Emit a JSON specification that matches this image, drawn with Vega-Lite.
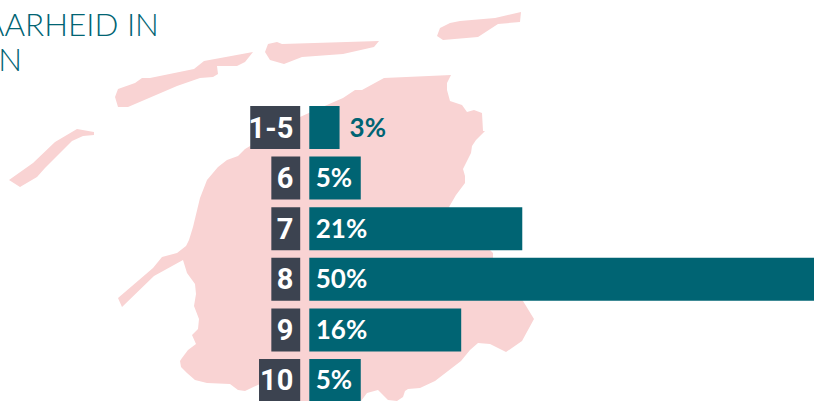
{
"$schema":"https://vega.github.io/schema/vega-lite/v6.json",
"width":814,"height":401,
"autosize":{"type":"none"},
"padding":0,
"background":"white",
"view":{"stroke":null},
"datasets":{"bars":[
{"cat":"1-5","value":3,"label":"3%"},
{"cat":"6","value":5.1,"label":"5%"},
{"cat":"7","value":21.1,"label":"21%"},
{"cat":"8","value":50,"label":"50%"},
{"cat":"9","value":15.05,"label":"16%"},
{"cat":"10","value":5.1,"label":"5%"}
]},
"layer":[
{"data":{"values":{"type":"FeatureCollection","features":[
{"type":"Feature","properties":{"name":"Fryslân"},"geometry":{"type":"MultiPolygon","coordinates":[
[[[384,78],[451,75],[447,83],[447,90],[450,101],[462,105],[467,112],[474,110],[482,113],[483,131],[485,131],[476,140],[472,146],[471,153],[463,169],[465,176],[465,183],[456,195],[449,207],[470,230],[490,250],[493,253],[493,262],[523,301],[534,319],[522,341],[506,352],[490,344],[478,343],[470,350],[461,361],[435,381],[420,388],[408,389],[405,391],[403,397],[397,401],[388,400],[382,394],[378,390],[367,393],[361,401],[355,415],[290,415],[260,384],[245,391],[238,390],[230,384],[207,383],[195,380],[187,373],[181,367],[180,361],[182,358],[188,350],[196,344],[192,335],[198,329],[199,319],[194,306],[196,294],[195,284],[187,273],[183,260],[154,276],[122,307],[118,298],[153,268],[162,257],[177,253],[186,246],[189,240],[193,227],[200,198],[207,180],[218,167],[227,160],[238,156],[245,149],[300,117],[320,108],[343,98],[355,90],[362,90],[384,78]]],
[[[265,52],[268,44],[277,42],[282,44],[379,41],[374,47],[343,54],[302,57],[284,64],[270,60],[265,52]]],
[[[115,97],[118,89],[135,83],[142,78],[150,78],[194,69],[204,61],[253,52],[245,62],[237,66],[217,66],[218,74],[213,77],[200,78],[177,86],[128,107],[118,107],[115,97]]],
[[[9,180],[33,163],[55,142],[77,129],[94,132],[94,135],[83,136],[72,141],[45,168],[37,177],[20,187],[9,180]]],
[[[437,36],[440,28],[450,23],[460,21],[495,18],[521,12],[520,22],[498,24],[478,37],[443,40],[437,36]]]
]}}
]},"format":{"type":"json","property":"features"}},
"projection":{"type":"identity","scale":1,"translate":[0,0]},
"mark":{"type":"geoshape","fill":"#f9d3d3","stroke":null},
"encoding":{}},
{"data":{"name":"bars"},
"mark":{"type":"bar","color":"#006473"},
"encoding":{
"x":{"field":"value","type":"quantitative","scale":{"domain":[-30.64,50],"range":[0,814],"nice":false,"zero":false},"axis":null},
"y":{"field":"cat","type":"nominal","scale":{"domain":["1-5","6","7","8","9","10"],"range":[106,402],"paddingInner":0.15,"paddingOuter":0},"axis":null}}},
{"data":{"name":"bars"},"transform":[{"filter":"datum.cat==='1-5'"}],
"mark":{"type":"rect","color":"#3c4350"},
"encoding":{"x":{"datum":-5.85,"type":"quantitative"},"x2":{"datum":-0.9},"y":{"field":"cat","type":"nominal"}}},
{"data":{"name":"bars"},"transform":[{"filter":"datum.cat==='10'"}],
"mark":{"type":"rect","color":"#3c4350"},
"encoding":{"x":{"datum":-4.98,"type":"quantitative"},"x2":{"datum":-0.9},"y":{"field":"cat","type":"nominal"}}},
{"data":{"name":"bars"},"transform":[{"filter":"datum.cat!=='1-5'&&datum.cat!=='10'"}],
"mark":{"type":"rect","color":"#3c4350"},
"encoding":{"x":{"datum":-3.76,"type":"quantitative"},"x2":{"datum":-0.9},"y":{"field":"cat","type":"nominal"}}},
{"data":{"name":"bars"},
"mark":{"type":"text","align":"right","baseline":"middle","dx":-16,"dy":1,"font":"Roboto","fontWeight":"bold","fontSize":29,"color":"white"},
"encoding":{"x":{"datum":0,"type":"quantitative"},"y":{"field":"cat","type":"nominal"},"text":{"field":"cat"}}},
{"data":{"name":"bars"},"transform":[{"filter":"datum.value>4"}],
"mark":{"type":"text","align":"left","baseline":"middle","dx":6.5,"dy":1,"font":"Lato","fontWeight":"bold","fontSize":26,"color":"white"},
"encoding":{"x":{"datum":0,"type":"quantitative"},"y":{"field":"cat","type":"nominal"},"text":{"field":"label"}}},
{"data":{"name":"bars"},"transform":[{"filter":"datum.value<=4"}],
"mark":{"type":"text","align":"left","baseline":"middle","dx":10,"dy":1,"font":"Lato","fontWeight":"bold","fontSize":26,"color":"#006473"},
"encoding":{"x":{"field":"value","type":"quantitative"},"y":{"field":"cat","type":"nominal"},"text":{"field":"label"}}},
{"data":{"values":[{"line":"AARHEID IN"}]},
"mark":{"type":"text","align":"right","baseline":"alphabetic","dy":-91.5,"font":"Lato","fontWeight":300,"fontSize":31.5,"color":"#006473"},
"encoding":{"x":{"datum":-14.9,"type":"quantitative"},"y":{"datum":"1-5","type":"nominal"},"text":{"field":"line"}}},
{"data":{"values":[{"line":"N"}]},
"mark":{"type":"text","align":"right","baseline":"alphabetic","dy":-56.5,"font":"Lato","fontWeight":300,"fontSize":31.5,"color":"#006473"},
"encoding":{"x":{"datum":-28.45,"type":"quantitative"},"y":{"datum":"1-5","type":"nominal"},"text":{"field":"line"}}}
]
}
